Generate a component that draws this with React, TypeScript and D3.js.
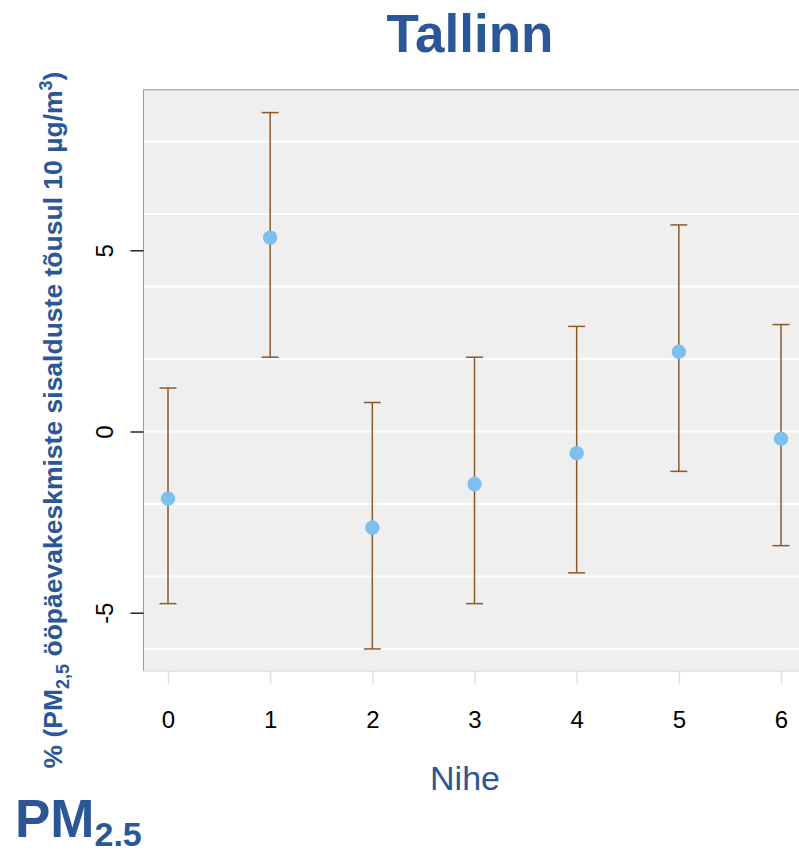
import React, { useEffect, useRef } from "react";
import * as d3 from "d3";

// lag (days) and estimated % change with 95% CI
const lags = [0, 1, 2, 3, 4, 5, 6];
const estimates = [-1.85, 5.35, -2.65, -1.45, -0.6, 2.2, -0.2];
const lower = [-4.75, 2.05, -6.0, -4.75, -3.9, -1.1, -3.15];
const upper = [1.2, 8.8, 0.8, 2.05, 2.9, 5.7, 2.95];
const yTicks = [-5, 0, 5];
const gridValues = [-6, -4, -2, 0, 2, 4, 6, 8];

const FONT = "'Liberation Sans', Arial, Helvetica, sans-serif";
const BLUE = "#2b5797";

export default function App() {
  const ref = useRef<SVGSVGElement>(null);

  useEffect(() => {
    const svg = d3.select(ref.current);
    svg.selectAll("*").remove();

    const width = 799;
    const height = 852;

    const x = d3.scaleLinear().domain([0, 6]).range([168, 781]);
    const y = d3.scaleLinear().domain([0, 5]).range([431.5, 250.3]);

    const xMin = -0.24;
    const xMax = 6.24;
    const yMin = -6.61;
    const yMax = 9.43;

    // panel
    svg
      .append("rect")
      .attr("x", x(xMin))
      .attr("y", y(yMax))
      .attr("width", x(xMax) - x(xMin))
      .attr("height", y(yMin) - y(yMax))
      .attr("fill", "#efefef");

    // gridlines
    svg
      .append("g")
      .selectAll("line")
      .data(gridValues)
      .join("line")
      .attr("x1", x(xMin))
      .attr("x2", x(xMax))
      .attr("y1", (d) => y(d))
      .attr("y2", (d) => y(d))
      .attr("stroke", "#ffffff")
      .attr("stroke-width", 2);

    // panel borders
    svg
      .append("line")
      .attr("x1", x(xMin))
      .attr("x2", x(xMin))
      .attr("y1", y(yMax))
      .attr("y2", y(yMin))
      .attr("stroke", "#999")
      .attr("stroke-width", 1);
    svg
      .append("line")
      .attr("x1", x(xMin))
      .attr("x2", x(xMax))
      .attr("y1", y(yMax))
      .attr("y2", y(yMax))
      .attr("stroke", "#999")
      .attr("stroke-width", 1);
    svg
      .append("line")
      .attr("x1", x(xMin))
      .attr("x2", x(xMax))
      .attr("y1", y(yMin))
      .attr("y2", y(yMin))
      .attr("stroke", "#dcdcdc")
      .attr("stroke-width", 1.5);

    // y axis
    const yAxis = d3
      .axisLeft(y)
      .tickValues(yTicks)
      .tickSize(13)
      .tickFormat((d) => String(d));
    const gy = svg
      .append("g")
      .attr("transform", `translate(${x(xMin)},0)`)
      .call(yAxis);
    gy.select(".domain").remove();
    gy.selectAll("line").attr("stroke", "#000").attr("stroke-width", 1.3);
    gy.selectAll("text")
      .attr("font-family", FONT)
      .attr("font-size", 24)
      .attr("fill", "#000")
      .attr("text-anchor", "middle")
      .attr("x", null)
      .attr("dy", null)
      .attr("transform", "translate(-30,0) rotate(-90)");

    // x axis
    const xAxis = d3
      .axisBottom(x)
      .tickValues(lags)
      .tickSize(13)
      .tickFormat((d) => String(d));
    const gx = svg
      .append("g")
      .attr("transform", `translate(0,${y(yMin)})`)
      .call(xAxis);
    gx.select(".domain").remove();
    gx.selectAll("line").attr("stroke", "#e2e2e2").attr("stroke-width", 1.5);
    gx.selectAll("text")
      .attr("font-family", FONT)
      .attr("font-size", 24)
      .attr("fill", "#000")
      .attr("dy", null)
      .attr("y", 57);

    // error bars
    const bars = svg.append("g");
    const brown = "#8b5a2b";
    lags.forEach((lag, i) => {
      const cx = x(lag);
      bars
        .append("line")
        .attr("x1", cx)
        .attr("x2", cx)
        .attr("y1", y(lower[i]))
        .attr("y2", y(upper[i]))
        .attr("stroke", brown)
        .attr("stroke-width", 1.5);
      [lower[i], upper[i]].forEach((v) => {
        bars
          .append("line")
          .attr("x1", cx - 8.5)
          .attr("x2", cx + 8.5)
          .attr("y1", y(v))
          .attr("y2", y(v))
          .attr("stroke", brown)
          .attr("stroke-width", 1.5);
      });
    });

    // points
    svg
      .append("g")
      .selectAll("circle")
      .data(lags)
      .join("circle")
      .attr("cx", (d) => x(d))
      .attr("cy", (d, i) => y(estimates[i]))
      .attr("r", 7.2)
      .attr("fill", "#7dbfee");

    // title
    svg
      .append("text")
      .attr("x", 470)
      .attr("y", 52)
      .attr("text-anchor", "middle")
      .attr("font-family", FONT)
      .attr("font-weight", "bold")
      .attr("font-size", 53)
      .attr("fill", BLUE)
      .text("Tallinn");

    // x label
    svg
      .append("text")
      .attr("x", 465)
      .attr("y", 790)
      .attr("text-anchor", "middle")
      .attr("font-family", FONT)
      .attr("font-size", 34)
      .attr("fill", BLUE)
      .text("Nihe");

    // y label
    const yl = svg
      .append("text")
      .attr("transform", "translate(62,420) rotate(-90)")
      .attr("text-anchor", "middle")
      .attr("font-family", FONT)
      .attr("font-weight", "bold")
      .attr("font-size", 26.5)
      .attr("fill", BLUE);
    yl.append("tspan").text("% (PM");
    yl.append("tspan").attr("font-size", 18).attr("dy", 7).text("2,5");
    yl.append("tspan").attr("dy", -7).text(" ööpäevakeskmiste sisalduste tõusul 10 µg/m");
    yl.append("tspan").attr("font-size", 18).attr("dy", -10).text("3");
    yl.append("tspan").attr("dy", 10).text(")");

    // PM2.5 corner label
    const pm = svg
      .append("text")
      .attr("x", 15)
      .attr("y", 837)
      .attr("font-family", FONT)
      .attr("font-weight", "bold")
      .attr("font-size", 53)
      .attr("fill", BLUE);
    pm.append("tspan").text("PM");
    pm.append("tspan").attr("font-size", 34).attr("dy", 9).text("2.5");

    svg.attr("width", width).attr("height", height);
  }, []);

  return (
    <svg
      ref={ref}
      width={799}
      height={852}
      style={{ position: "absolute", left: 0, top: 0, background: "#fff" }}
    />
  );
}
